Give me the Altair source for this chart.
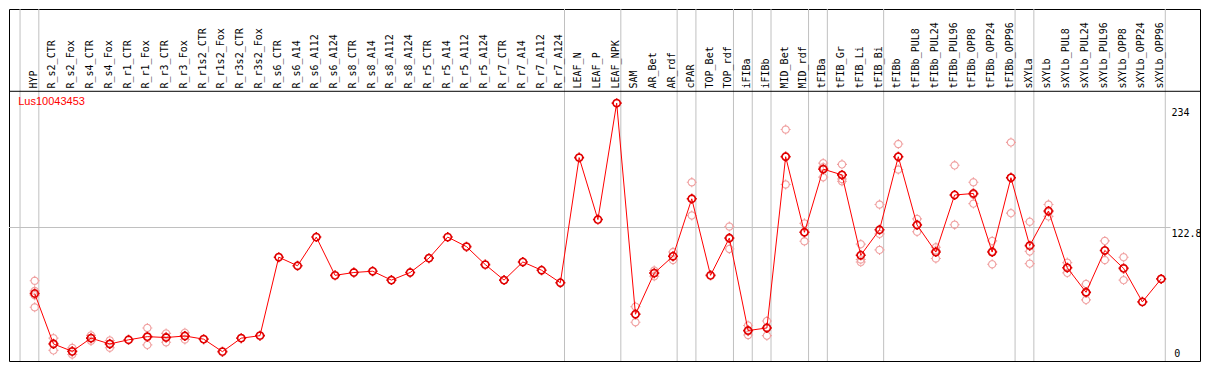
import math
import altair as alt
import pandas as pd

# ---------------- data ----------------
categories = [
    "HYP", "R_s2_CTR", "R_s2_Fox", "R_s4_CTR", "R_s4_Fox", "R_r1_CTR", "R_r1_Fox",
    "R_r3_CTR", "R_r3_Fox", "R_r1s2_CTR", "R_r1s2_Fox", "R_r3s2_CTR", "R_r3s2_Fox",
    "R_s6_CTR", "R_s6_A14", "R_s6_A112", "R_s6_A124", "R_s8_CTR", "R_s8_A14",
    "R_s8_A112", "R_s8_A124", "R_r5_CTR", "R_r5_A14", "R_r5_A112", "R_r5_A124",
    "R_r7_CTR", "R_r7_A14", "R_r7_A112", "R_r7_A124", "LEAF_N", "LEAF_P", "LEAF_NPK",
    "SAM", "AR_Bet", "AR_rdf", "cPAR", "TOP_Bet", "TOP_rdf", "iFIBa", "iFIBb",
    "MID_Bet", "MID_rdf", "tFIBa", "tFIB_Gr", "tFIB_Li", "tFIB_Bi", "tFIBb",
    "tFIBb_PUL8", "tFIBb_PUL24", "tFIBb_PUL96", "tFIBb_OPP8", "tFIBb_OPP24",
    "tFIBb_OPP96", "sXYLa", "sXYLb", "sXYLb_PUL8", "sXYLb_PUL24", "sXYLb_PUL96",
    "sXYLb_OPP8", "sXYLb_OPP24", "sXYLb_OPP96",
]

means = [
    62.1, 15.7, 8.9, 21.0, 15.7, 19.5, 22.4, 21.6, 23.0, 20.1, 8.6, 21.0, 23.3,
    95.5, 87.6, 114.0, 78.8, 81.4, 82.6, 74.4, 81.4, 94.6, 114.0, 105.2, 88.7,
    74.4, 91.1, 83.5, 72.0, 187.1, 130.1, 237.2,
    43.0, 80.8, 96.4, 149.2, 78.8, 113.1, 28.0, 30.4,
    187.9, 118.4, 176.5, 171.2, 97.3, 120.7, 187.9,
    125.1, 100.2, 152.7, 154.1, 100.2, 168.6,
    106.1, 138.0, 85.8, 63.2, 101.7, 85.2, 54.4, 75.5,
]

replicates = [
    [73.8, 64.5, 60.5, 49.4], [21.0, 16.3, 9.8], [12.1, 8.6, 6.0], [23.6, 21.0, 18.5],
    [18.9, 16.0, 12.2], [], [30.4, 22.0, 14.8], [25.4, 22.2, 17.2], [26.0, 23.2, 19.8],
    [], [], [], [],
    [], [], [], [], [], [], [], [], [], [], [], [], [], [], [], [],
    [], [], [],
    [50.0, 43.3, 35.7], [83.2, 81.3, 77.9], [100.2, 96.1, 92.9], [164.4, 149.2, 133.9],
    [], [123.7, 112.5, 103.1], [32.7, 27.4, 23.9], [36.8, 31.1, 23.3],
    [212.9, 188.4, 162.4], [126.6, 118.5, 110.1], [182.0, 178.3, 169.1],
    [180.9, 167.4, 165.3], [107.5, 93.4, 91.0], [143.9, 116.9, 102.2],
    [199.6, 188.0, 176.1],
    [130.7, 125.7, 118.9], [104.6, 101.7, 94.3], [180.0, 152.7, 125.4],
    [164.4, 153.1, 144.8], [110.5, 101.1, 89.0], [201.1, 168.7, 136.0],
    [128.1, 100.8, 89.6], [143.9, 137.1, 133.0], [90.5, 85.8, 81.1],
    [70.9, 62.5, 56.2], [110.5, 101.7, 92.9], [95.5, 85.7, 74.4], [], [],
]

# sample-group separators (after these category indices)
group_breaks = [-1, 0, 28, 31, 34, 35, 37, 38, 39, 41, 42, 45, 52, 53, 60]
tick_values = [234, 122.8]
zero_tick = [0]
gene_id = "Lus10043453"

# ---------------- layout ----------------
W, H = 1191, 352
X_DOMAIN = [-1.368, 62.07]
Y_DOMAIN = [0, 323.8]
LABEL_BAND = 248.1      # separator between label band and plot
LABEL_ANCHOR = 250.7
BREAK_OFFSET = 0.22

xs = alt.Scale(domain=X_DOMAIN, nice=False, zero=False)
ys = alt.Scale(domain=Y_DOMAIN, nice=False, zero=False)

# marker: ring with four small ticks
_r = 0.72
_pts = [(_r * math.cos(2 * math.pi * k / 20), _r * math.sin(2 * math.pi * k / 20)) for k in range(20)]
MARK = "M " + " L ".join(f"{x:.3f} {y:.3f}" for x, y in _pts) + " Z"
MARK += f" M 0 -1 L 0 {-_r} M 0 {_r} L 0 1 M -1 0 L {-_r} 0 M {_r} 0 L 1 0"

df = pd.DataFrame({"idx": list(range(len(categories))), "cat": categories, "mean": means})
rep_rows = [{"idx": i, "value": v} for i, reps in enumerate(replicates) for v in reps]
df_rep = pd.DataFrame(rep_rows)
df_breaks = pd.DataFrame({"pos": [b + BREAK_OFFSET for b in group_breaks]})
df_ticks = pd.DataFrame({"v": tick_values, "lab": [f"{t:g}" for t in tick_values]})
df_zero = pd.DataFrame({"v": zero_tick, "lab": [str(z) for z in zero_tick]})
df_hgrid = pd.DataFrame({"v": [tick_values[1]], "x1": [X_DOMAIN[0]], "x2": [60.5]})
df_sep = pd.DataFrame({"v": [LABEL_BAND]})
df_gene = pd.DataFrame({"t": [gene_id], "x": [-0.878], "y": [238.4]})
df_cat = df.assign(ly=LABEL_ANCHOR)
df_ticks = df_ticks.assign(x=60.55)
df_zero = df_zero.assign(x=60.7)

X = lambda f: alt.X(f, type="quantitative", scale=xs, axis=None)
Y = lambda f: alt.Y(f, type="quantitative", scale=ys, axis=None)

vgrid = alt.Chart(df_breaks).mark_rule(color="#c0c0c0", strokeWidth=1).encode(x=X("pos"))
hgrid = alt.Chart(df_hgrid).mark_rule(color="#c0c0c0", strokeWidth=1).encode(
    y=Y("v"), x=X("x1"), x2="x2:Q"
)
sep = alt.Chart(df_sep).mark_rule(color="black", strokeWidth=1).encode(y=Y("v"))

reps_layer = alt.Chart(df_rep).mark_point(
    shape=MARK, size=100, filled=False, color="#f0a0a0", strokeWidth=1.1, opacity=1
).encode(x=X("idx"), y=Y("value"))

line = alt.Chart(df).mark_line(color="#ff0000", strokeWidth=1).encode(x=X("idx"), y=Y("mean"))

means_layer = alt.Chart(df).mark_point(
    shape=MARK, size=100, filled=False, color="#e00000", strokeWidth=1.6, opacity=1
).encode(x=X("idx"), y=Y("mean"))

cat_labels = alt.Chart(df_cat).mark_text(
    angle=270, align="left", baseline="middle", font="DejaVu Sans Mono",
    fontSize=10, color="black", dy=-1
).encode(x=X("idx"), y=Y("ly"), text="cat:N")

gene_text = alt.Chart(df_gene).mark_text(
    align="left", baseline="middle", font="Liberation Sans", fontSize=11, color="red"
).encode(x=X("x"), y=Y("y"), text="t:N")

ticks_text = alt.Chart(df_ticks).mark_text(
    align="left", baseline="top", font="DejaVu Sans Mono", fontSize=10, color="black", dy=1
).encode(x=X("x"), y=Y("v"), text="lab:N")
zero_text = alt.Chart(df_zero).mark_text(
    align="left", baseline="bottom", font="DejaVu Sans Mono", fontSize=10, color="black", dy=-2
).encode(x=X("x"), y=Y("v"), text="lab:N")

chart = alt.layer(
    vgrid, hgrid, sep, reps_layer, line, means_layer, cat_labels, gene_text, ticks_text, zero_text
).properties(
    width=W, height=H, padding=1, autosize=alt.AutoSizeParams(type="none"),
    background="white",
).configure_view(stroke="black", strokeWidth=1)

chart.save("out.html", embed_options={"renderer": "svg", "actions": False})
